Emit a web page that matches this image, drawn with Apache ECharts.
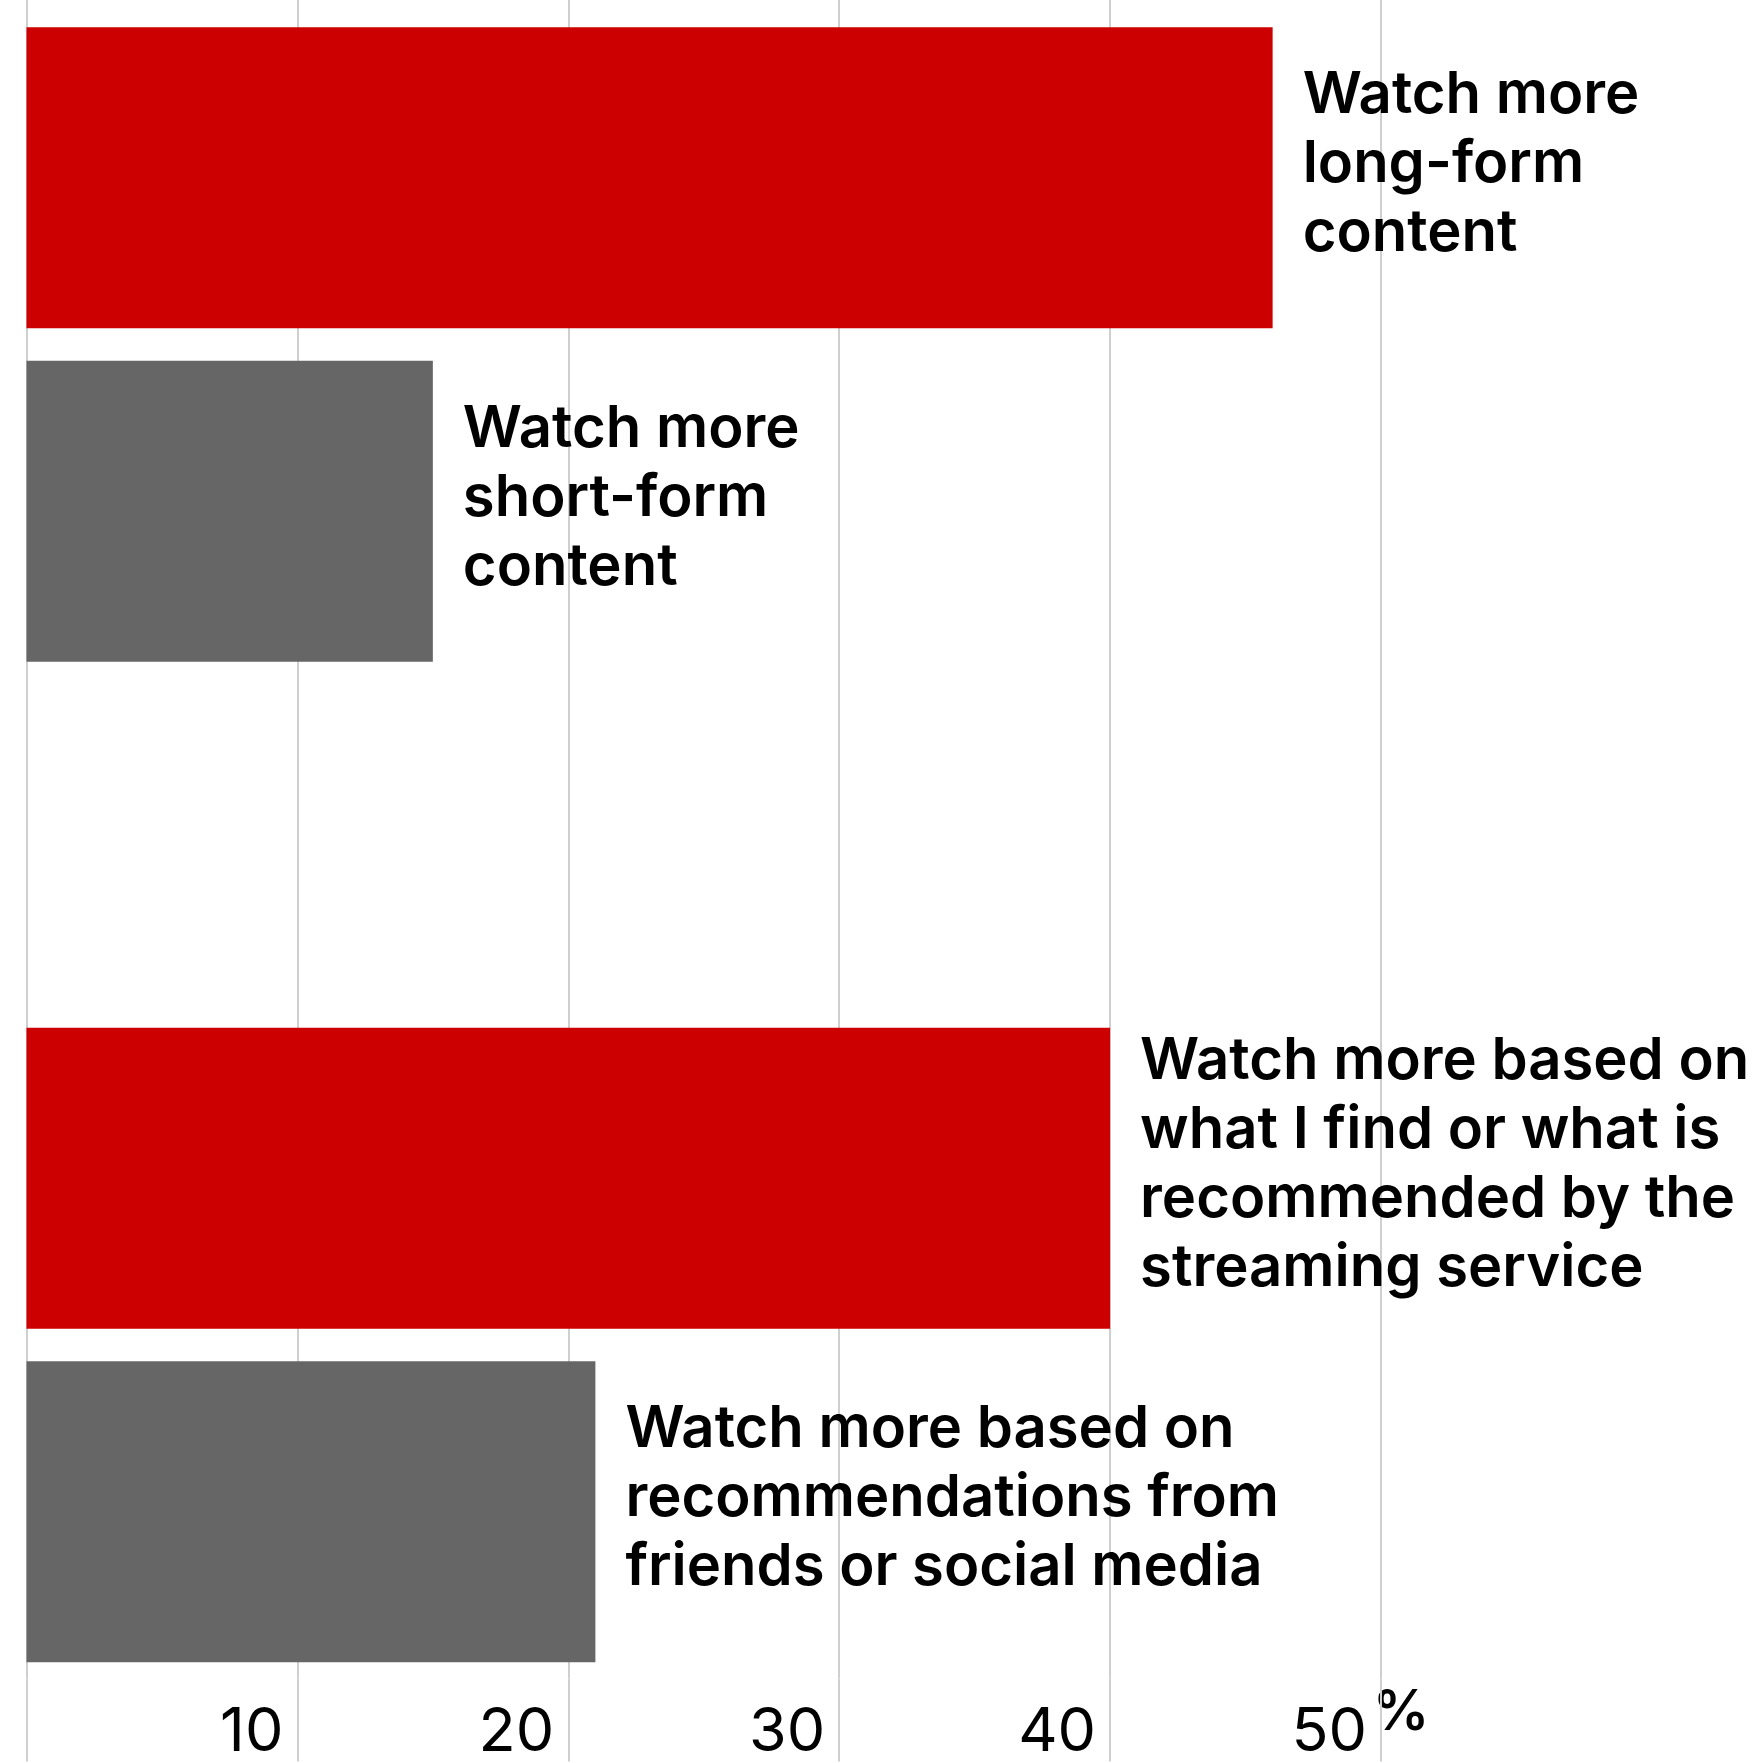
<!DOCTYPE html>
<html>
<head>
<meta charset="utf-8">
<script src="https://cdn.jsdelivr.net/npm/echarts@6/dist/echarts.min.js"></script>
<style>
  html, body { margin: 0; padding: 0; background: #fff; }
  #chart { width: 1755px; height: 1763px; }
</style>
</head>
<body>
<div id="chart"></div>
<script>
// ---- data ----
const categories = [
  'Watch more long-form content',
  'Watch more short-form content',
  '',
  'Watch more based on what I find or what is recommended by the streaming service',
  'Watch more based on recommendations from friends or social media'
];
const barLabels = [
  'Watch more\nlong-form\ncontent',
  'Watch more\nshort-form\ncontent',
  '',
  'Watch more based on\nwhat I find or what is\nrecommended by the\nstreaming service',
  'Watch more based on\nrecommendations from\nfriends or social media'
];
const redValues  = [46, '-', '-', 40, '-'];
const greyValues = ['-', 15, '-', '-', 21];
const tickLabels = ['', '10', '20', '30', '40', '50'];
const unitLabel = '%';

// ---- chart ----
const chart = echarts.init(document.getElementById('chart'), null, { renderer: 'canvas' });
const gridColor = '#cfcfcf';
const labelStyle = {
  show: true,
  position: 'right',
  distance: 30,
  offset: [0, -13],
  color: '#000',
  fontFamily: 'Inter',
  fontWeight: 600,
  fontSize: 58,
  lineHeight: 69,
  formatter: p => barLabels[p.dataIndex]
};
const option = {
  animation: false,
  backgroundColor: '#fff',
  grid: { left: 26.5, right: 374, top: 11, bottom: 82, containLabel: false },
  xAxis: [{
    type: 'value',
    min: 0, max: 50, interval: 10,
    position: 'bottom',
    axisLine: { show: false },
    axisTick: { show: true, length: 83, lineStyle: { color: gridColor, width: 2 } },
    splitLine: { show: true, lineStyle: { color: gridColor, width: 2 } },
    axisLabel: {
      show: true,
      formatter: (v) => tickLabels[Math.round(v / 10)],
      align: 'right',
      verticalAlign: 'middle',
      margin: 54,
      padding: [0, 14, 0, 0],
      color: '#000',
      fontFamily: 'Inter',
      fontWeight: 400,
      fontSize: 61
    },
    name: unitLabel,
    nameLocation: 'end',
    nameGap: -15,
    nameTextStyle: {
      color: '#000',
      fontFamily: 'Inter',
      fontWeight: 600,
      fontSize: 56,
      align: 'left',
      verticalAlign: 'top',
      lineHeight: 70
    }
  }, {
    type: 'value',
    min: 0, max: 50, interval: 10,
    position: 'top',
    axisLine: { show: false },
    axisTick: { show: true, length: 12, lineStyle: { color: gridColor, width: 2 } },
    splitLine: { show: false },
    axisLabel: { show: false }
  }],
  yAxis: {
    type: 'category',
    inverse: true,
    data: categories,
    axisLine: { show: false },
    axisTick: { show: false },
    axisLabel: { show: false },
    splitLine: { show: false }
  },
  series: [{
    type: 'bar',
    name: 'red',
    data: redValues,
    barWidth: 301,
    barGap: '-100%',
    itemStyle: { color: '#cc0000' },
    label: labelStyle
  }, {
    type: 'bar',
    name: 'grey',
    data: greyValues,
    barWidth: 301,
    barGap: '-100%',
    itemStyle: { color: '#666666' },
    label: labelStyle
  }]
};
chart.setOption(option);
</script>
</body>
</html>
